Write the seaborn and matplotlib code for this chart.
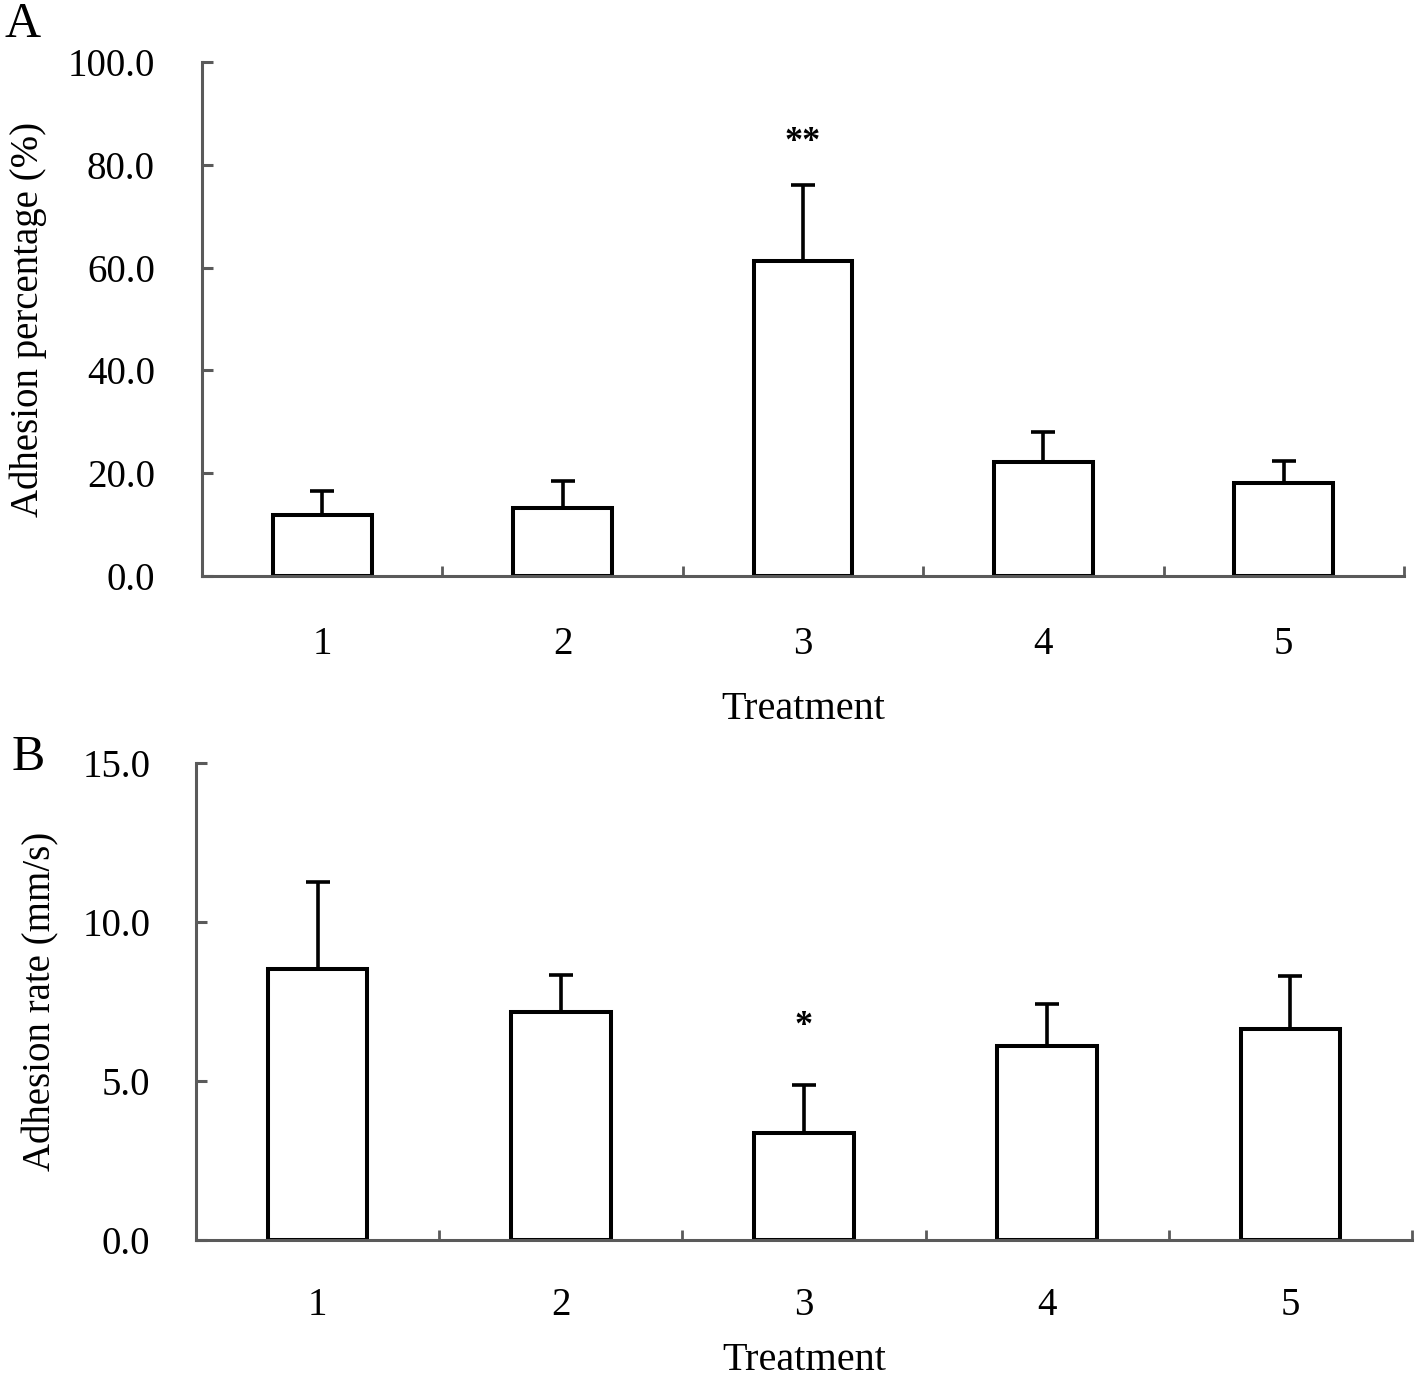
import numpy as np
import pandas as pd
import seaborn as sns
import matplotlib.pyplot as plt
from matplotlib.ticker import FixedLocator

# values
treatments = ["1", "2", "3", "4", "5"]
pct_mean = [11.9, 13.2, 61.3, 22.2, 18.0]
pct_err = [4.7, 5.3, 14.8, 5.8, 4.4]
rate_mean = [8.52, 7.17, 3.36, 6.10, 6.64]
rate_err = [2.74, 1.16, 1.51, 1.32, 1.66]
pct_stars = ["", "", "**", "", ""]
rate_stars = ["", "", "*", "", ""]

sns.set_style("white")
plt.rcParams["font.family"] = ["Liberation Serif", "DejaVu Serif"]
plt.rcParams["text.color"] = "black"
plt.rcParams["axes.labelcolor"] = "black"

axis_grey = "#5a5a5a"


def panel(ax, means, errs, stars, ymax, ystep, ylabel, star_gap, ypad, xpad):
    df = pd.DataFrame({"Treatment": treatments, "value": means})
    sns.barplot(data=df, x="Treatment", y="value", ax=ax, color="white",
                saturation=1, edgecolor="black", linewidth=2.9, width=0.41,
                errorbar=None)
    ax.errorbar(np.arange(len(means)), means,
                yerr=[np.zeros(len(errs)), errs], fmt="none",
                ecolor="black", elinewidth=2.6, capsize=8.5, capthick=2.6,
                zorder=1)
    for i, s in enumerate(stars):
        if s:
            ax.text(i, means[i] + errs[i] + star_gap, s, ha="center",
                    va="center", fontsize=26, fontweight="bold")

    ax.set_xlim(-0.5, len(means) - 0.5)
    ax.set_ylim(0, ymax)
    ticks = np.arange(0, ymax + ystep / 2, ystep)
    ax.set_yticks(ticks)
    ax.set_yticklabels([f"{v:.1f}" for v in ticks])
    ax.xaxis.set_minor_locator(FixedLocator(np.arange(0.5, len(means), 1.0)))

    for side in ["top", "right"]:
        ax.spines[side].set_visible(False)
    for side in ["left", "bottom"]:
        ax.spines[side].set_color(axis_grey)
        ax.spines[side].set_linewidth(2.2)

    ax.tick_params(axis="y", direction="in", length=8, width=2.2,
                   color=axis_grey, labelcolor="black", labelsize=28,
                   pad=ypad, left=True)
    ax.tick_params(axis="x", which="major", length=0, labelsize=28,
                   labelcolor="black", pad=xpad)
    ax.tick_params(axis="x", which="minor", direction="in", length=7,
                   width=2.0, color=axis_grey, bottom=True)
    ax.set_ylabel(ylabel, fontsize=28)
    ax.set_xlabel("Treatment", fontsize=29)


fig = plt.figure(figsize=(14.17, 13.84), dpi=100)
ax_a = fig.add_axes([0.1426, 0.5838, 0.8482, 0.3714])
ax_b = fig.add_axes([0.1383, 0.1040, 0.8582, 0.3447])

panel(ax_a, pct_mean, pct_err, pct_stars, 100, 20,
      "Adhesion percentage (%)", 8.3, 34, 36)
ax_a.xaxis.labelpad = 20
ax_a.yaxis.labelpad = 15

panel(ax_b, rate_mean, rate_err, rate_stars, 15, 5,
      "Adhesion rate (mm/s)", 1.85, 33, 34)
ax_b.xaxis.labelpad = 13
ax_b.yaxis.labelpad = 16

fig.text(0.003, 0.999, "A", fontsize=36, va="top", ha="left")
fig.text(0.008, 0.469, "B", fontsize=36, va="top", ha="left")

fig.savefig("out.png", dpi=100)
